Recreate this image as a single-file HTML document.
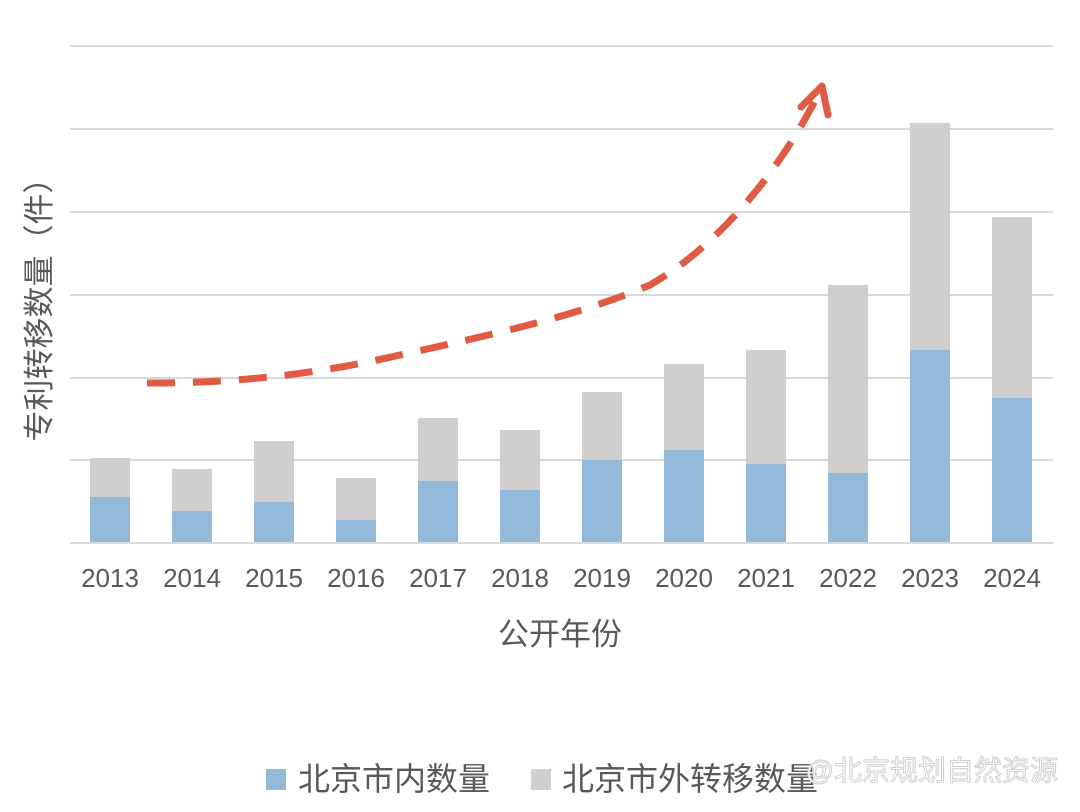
<!DOCTYPE html>
<html><head><meta charset="utf-8"><style>
html,body{margin:0;padding:0;background:#fff;}
svg text{font-family:"Liberation Sans","Noto Sans CJK SC",sans-serif;}
</style></head><body>
<svg width="1080" height="807" viewBox="0 0 1080 807" xmlns="http://www.w3.org/2000/svg">
<rect width="1080" height="807" fill="#fff"/>
<g stroke="#d9d9d9" stroke-width="2">
<line x1="70" y1="46" x2="1053" y2="46"/>
<line x1="70" y1="129" x2="1053" y2="129"/>
<line x1="70" y1="212" x2="1053" y2="212"/>
<line x1="70" y1="295" x2="1053" y2="295"/>
<line x1="70" y1="378" x2="1053" y2="378"/>
<line x1="70" y1="460" x2="1053" y2="460"/>
</g>
<g>
<rect x="90" y="458" width="40" height="39" fill="#d0cece"/><rect x="90" y="497" width="40" height="46" fill="#92b9d9"/>
<rect x="172" y="469" width="40" height="42" fill="#d0cece"/><rect x="172" y="511" width="40" height="32" fill="#92b9d9"/>
<rect x="254" y="441" width="40" height="61" fill="#d0cece"/><rect x="254" y="502" width="40" height="41" fill="#92b9d9"/>
<rect x="336" y="478" width="40" height="42" fill="#d0cece"/><rect x="336" y="520" width="40" height="23" fill="#92b9d9"/>
<rect x="418" y="418" width="40" height="63" fill="#d0cece"/><rect x="418" y="481" width="40" height="62" fill="#92b9d9"/>
<rect x="500" y="430" width="40" height="60" fill="#d0cece"/><rect x="500" y="490" width="40" height="53" fill="#92b9d9"/>
<rect x="582" y="392" width="40" height="68" fill="#d0cece"/><rect x="582" y="460" width="40" height="83" fill="#92b9d9"/>
<rect x="664" y="364" width="40" height="86" fill="#d0cece"/><rect x="664" y="450" width="40" height="93" fill="#92b9d9"/>
<rect x="746" y="350" width="40" height="114" fill="#d0cece"/><rect x="746" y="464" width="40" height="79" fill="#92b9d9"/>
<rect x="828" y="285" width="40" height="188" fill="#d0cece"/><rect x="828" y="473" width="40" height="70" fill="#92b9d9"/>
<rect x="910" y="123" width="40" height="227" fill="#d0cece"/><rect x="910" y="350" width="40" height="193" fill="#92b9d9"/>
<rect x="992" y="217" width="40" height="181" fill="#d0cece"/><rect x="992" y="398" width="40" height="145" fill="#92b9d9"/>
</g>
<line x1="70" y1="543" x2="1053" y2="543" stroke="#d9d9d9" stroke-width="2"/>
<g font-size="26" fill="#595959" text-anchor="middle">
<text x="110" y="587">2013</text><text x="192" y="587">2014</text><text x="274" y="587">2015</text>
<text x="356" y="587">2016</text><text x="438" y="587">2017</text><text x="520" y="587">2018</text>
<text x="602" y="587">2019</text><text x="684" y="587">2020</text><text x="766" y="587">2021</text>
<text x="848" y="587">2022</text><text x="930" y="587">2023</text><text x="1012" y="587">2024</text>
</g>
<text x="560" y="645" font-size="31" fill="#595959" text-anchor="middle">公开年份</text>
<text transform="translate(50,302) rotate(-90)" font-size="31" fill="#595959" text-anchor="middle">专利转移数量（件）</text>
<path d="M147,383 C220,383 300,378 400,355 C500,333 580,315 650,285 C720,245 780,170 818,95" fill="none" stroke="#e05a44" stroke-width="7" stroke-dasharray="28,18"/>
<path d="M801,107 L822,86 L828,115" fill="none" stroke="#e05a44" stroke-width="7" stroke-linecap="round" stroke-linejoin="round"/>
<rect x="266" y="769" width="20" height="21" fill="#92b9d9"/>
<text x="298" y="790" font-size="32" fill="#595959">北京市内数量</text>
<rect x="531" y="769" width="20" height="21" fill="#d0cece"/>
<text x="562" y="790" font-size="32" fill="#595959">北京市外转移数量</text>
<text x="1058" y="780" font-size="28" fill="#ffffff" stroke="#cfcfcf" stroke-width="1" text-anchor="end">@北京规划自然资源</text>
</svg>
</body></html>
